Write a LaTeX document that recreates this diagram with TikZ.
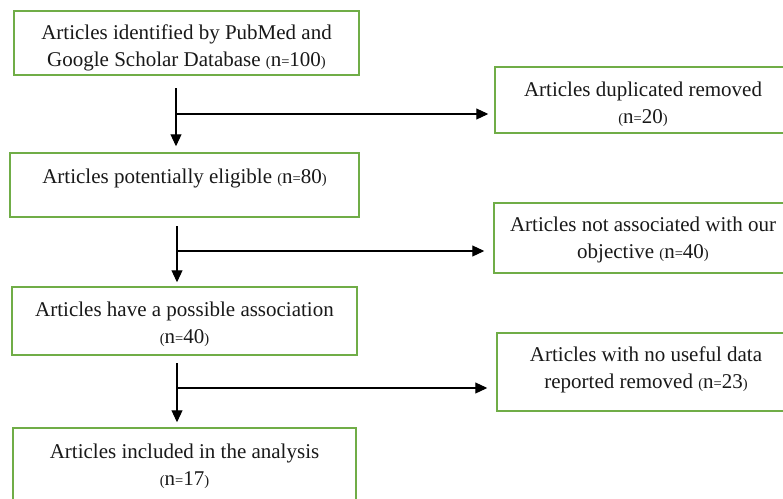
\documentclass[tikz,border=0pt]{standalone}
\usepackage{fontspec}
\setmainfont{Liberation Serif}
\usetikzlibrary{arrows.meta,calc}
\definecolor{boxgreen}{RGB}{112,173,71}
\definecolor{txtc}{RGB}{25,25,25}
\newcommand\smp[1]{{\fontsize{14.5pt}{14.5pt}\selectfont #1}}
\begin{document}
\begin{tikzpicture}[x=1pt,y=-1pt,
  box/.style={draw=boxgreen,line width=1.5pt,rectangle,inner sep=0pt},
  txt/.style={inner sep=0pt,align=center,text=txtc,font=\fontsize{21pt}{27pt}\selectfont},
  arr/.style={draw=black,line width=1.1pt,-{Triangle[length=12pt,width=11pt]}}]
\clip (0,0) rectangle (783,498);
\fill[white] (0,0) rectangle (783,498);
% left column boxes
\node[box,minimum width=345pt,minimum height=64pt] (b1) at (186.5,43) {};
\node[box,minimum width=349pt,minimum height=64pt] (b3) at (184.5,185) {};
\node[box,minimum width=345pt,minimum height=68pt] (b5) at (184.5,321) {};
\node[box,minimum width=343pt,minimum height=76pt] (b7) at (184.5,466) {};
% right column boxes
\node[box,minimum width=296pt,minimum height=66pt] (b2) at (643,100) {};
\node[box,minimum width=298pt,minimum height=70pt] (b4) at (643,238) {};
\node[box,minimum width=298pt,minimum height=78pt] (b6) at (646,372) {};
% texts
\node[txt] (t1) at (186.5,47.5)
  {Articles identified by PubMed and\\Google Scholar Database \smp{(}n\smp{=}100\smp{)}};
\node[txt] (t3) at (184.5,178.5) {Articles potentially eligible \smp{(}n\smp{=}80\smp{)}};
\node[txt] (t5) at (184.5,324) {Articles have a possible association\\\smp{(}n\smp{=}40\smp{)}};
\node[txt] (t7) at (184.5,466) {Articles included in the analysis\\\smp{(}n\smp{=}17\smp{)}};
\node[txt] (t2) at (643,104) {Articles duplicated removed\\\smp{(}n\smp{=}20\smp{)}};
\node[txt] (t4) at (643,240) {Articles not associated with our\\objective \smp{(}n\smp{=}40\smp{)}};
\node[txt] (t6) at (646,370) {Articles with no useful data\\reported removed \smp{(}n\smp{=}23\smp{)}};
% connectors
\coordinate (v1) at (176,88);
\coordinate (h1) at (176,114);
\coordinate (v2) at (177,226);
\coordinate (h2) at (177,251);
\coordinate (v3) at (177,363);
\coordinate (h3) at (177,388);
\draw[arr,shorten >=6pt] (v1) -- (v1 |- b3.north);
\draw[arr,shorten >=6pt] (h1) -- (h1 -| b2.west);
\draw[arr,shorten >=4pt] (v2) -- (v2 |- b5.north);
\draw[arr,shorten >=9pt] (h2) -- (h2 -| b4.west);
\draw[arr,shorten >=5pt] (v3) -- (v3 |- b7.north);
\draw[arr,shorten >=9pt] (h3) -- (h3 -| b6.west);
\end{tikzpicture}
\end{document}
